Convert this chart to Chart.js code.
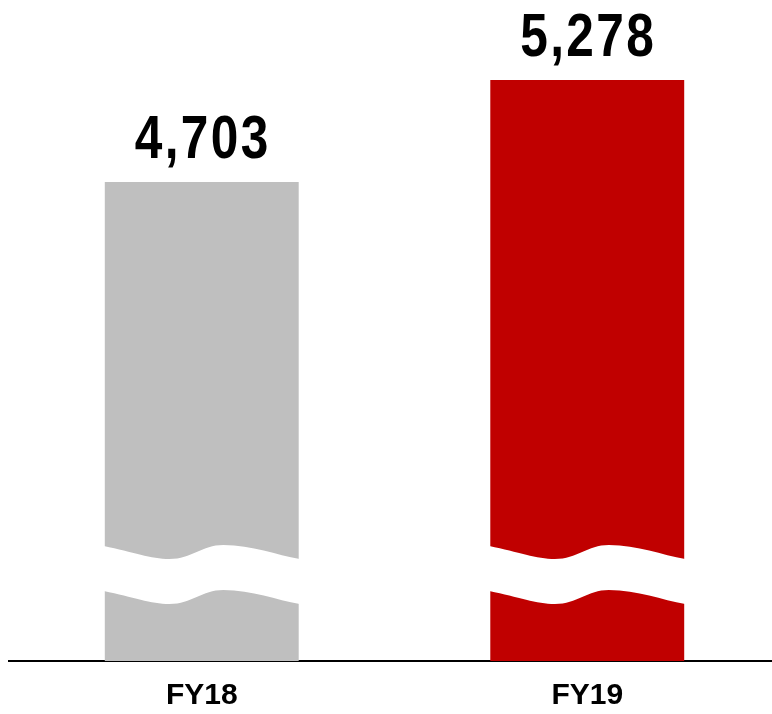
<!DOCTYPE html>
<html>
<head>
<meta charset="utf-8">
<script src="https://cdn.jsdelivr.net/npm/chart.js@4/dist/chart.umd.min.js"></script>
<style>
  body { margin: 0; overflow: hidden; background: #fff; }
  #wrap { position: relative; width: 780px; height: 714px; }
</style>
</head>
<body>
<div id="wrap"><canvas id="chart"></canvas></div>
<script>
const categories = ["FY18", "FY19"];
const values = [4703, 5278];
const barColors = ["#bfbfbf", "#c00000"];
const axisMin = 2000;
const axisMax = 5600;

function formatNumber(value) {
  return value.toLocaleString("en-US");
}

// white wavy band that marks the broken axis
const breakPlugin = {
  id: "axisBreak",
  afterDatasetsDraw(chart) {
    const ctx = chart.ctx;
    const bottom = chart.chartArea.bottom;
    chart.getDatasetMeta(0).data.forEach((bar) => {
      const left = bar.x - bar.width / 2 - 1;
      const w = bar.width + 2;
      const px = (f) => left + f * w;
      const edge = (off, reverse) => {
        const y = (v) => bottom + v + off;
        if (!reverse) {
          ctx.lineTo(px(0), y(-115));
          ctx.bezierCurveTo(px(0.15), y(-109), px(0.24), y(-102), px(0.335), y(-102));
          ctx.bezierCurveTo(px(0.45), y(-102), px(0.5), y(-116), px(0.61), y(-116));
          ctx.bezierCurveTo(px(0.76), y(-116), px(0.88), y(-106), px(1), y(-102));
        } else {
          ctx.lineTo(px(1), y(-102));
          ctx.bezierCurveTo(px(0.88), y(-106), px(0.76), y(-116), px(0.61), y(-116));
          ctx.bezierCurveTo(px(0.5), y(-116), px(0.45), y(-102), px(0.335), y(-102));
          ctx.bezierCurveTo(px(0.24), y(-102), px(0.15), y(-109), px(0), y(-115));
        }
      };
      ctx.save();
      ctx.fillStyle = "#ffffff";
      ctx.beginPath();
      ctx.moveTo(px(0), bottom - 115);
      edge(0, false);
      edge(45, true);
      ctx.closePath();
      ctx.fill();
      ctx.restore();
    });
  },
};

// big numbers above the bars, slightly condensed
const valueLabelPlugin = {
  id: "valueLabels",
  afterDatasetsDraw(chart) {
    const ctx = chart.ctx;
    chart.getDatasetMeta(0).data.forEach((bar, i) => {
      ctx.save();
      ctx.translate(bar.x + 1, bar.y - 24);
      ctx.scale(0.8, 1);
      ctx.font = "bold 62px 'Liberation Sans', Arial, sans-serif";
      if ("letterSpacing" in ctx) ctx.letterSpacing = "3px";
      ctx.fillStyle = "#000";
      ctx.textAlign = "center";
      ctx.textBaseline = "alphabetic";
      ctx.fillText(formatNumber(values[i]), 0, 0);
      ctx.restore();
    });
  },
};

new Chart(document.getElementById("chart"), {
  type: "bar",
  data: {
    labels: categories,
    datasets: [
      {
        data: values,
        backgroundColor: barColors,
        barPercentage: 0.503,
        categoryPercentage: 1,
      },
    ],
  },
  options: {
    responsive: true,
    maintainAspectRatio: false,
    animation: false,
    layout: { padding: { top: 23, left: 9, right: 0, bottom: 0 } },
    plugins: { legend: { display: false }, tooltip: { enabled: false } },
    scales: {
      x: {
        grid: { display: false },
        border: { display: true, color: "#000", width: 2 },
        afterFit(scale) {
          scale.height = 53;
        },
        ticks: {
          color: "#000",
          padding: 9,
          font: { family: "'Liberation Sans', Arial, sans-serif", size: 30, weight: "bold" },
        },
      },
      y: {
        display: false,
        min: axisMin,
        max: axisMax,
      },
    },
  },
  plugins: [breakPlugin, valueLabelPlugin],
});
</script>
</body>
</html>
